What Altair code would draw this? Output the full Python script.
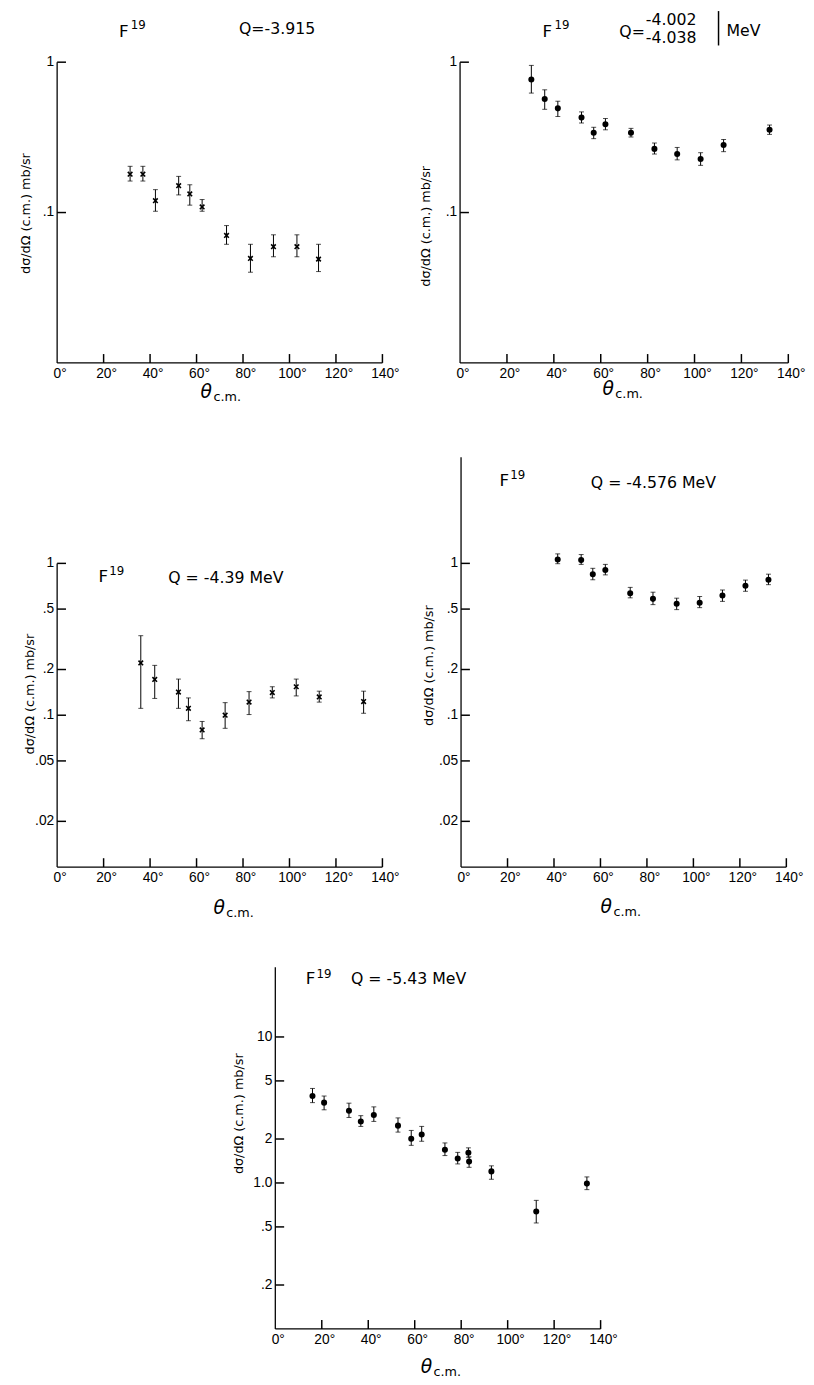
import altair as alt
import pandas as pd

FONT = "DejaVu Sans"
TICKFONT = "Liberation Sans"
INK = "black"

# ---------------- data ----------------
# Panel 1: Q = -3.915
theta1 = [31.4, 36.9, 42.3, 52.3, 57.1, 62.4, 72.9, 83.2, 93.1, 103.2, 112.5]
val1 = [0.180, 0.180, 0.120, 0.151, 0.133, 0.109, 0.0704, 0.0495, 0.0593, 0.0593, 0.049]
lo1 = [0.162, 0.162, 0.102, 0.131, 0.112, 0.102, 0.0615, 0.0401, 0.0508, 0.0508, 0.0405]
hi1 = [0.203, 0.203, 0.142, 0.174, 0.153, 0.122, 0.0819, 0.0615, 0.0711, 0.0711, 0.0615]

# Panel 2: Q = -4.002 / -4.038 MeV
theta2 = [30.4, 36.1, 41.7, 51.8, 57.0, 62.0, 72.9, 82.9, 92.6, 102.6, 112.4, 132.0]
val2 = [0.767, 0.569, 0.493, 0.428, 0.339, 0.386, 0.339, 0.265, 0.245, 0.227, 0.281, 0.355]
lo2 = [0.623, 0.486, 0.435, 0.394, 0.310, 0.355, 0.318, 0.245, 0.224, 0.206, 0.254, 0.331]
hi2 = [0.952, 0.655, 0.550, 0.467, 0.369, 0.422, 0.363, 0.290, 0.271, 0.250, 0.306, 0.382]

# Panel 3: Q = -4.39 MeV
theta3 = [36.0, 42.0, 52.2, 56.5, 62.4, 72.3, 82.6, 92.6, 102.9, 112.8, 131.9]
val3 = [0.221, 0.172, 0.142, 0.111, 0.080, 0.100, 0.122, 0.141, 0.154, 0.132, 0.123]
lo3 = [0.111, 0.129, 0.111, 0.092, 0.070, 0.082, 0.101, 0.130, 0.134, 0.122, 0.103]
hi3 = [0.334, 0.213, 0.173, 0.130, 0.091, 0.121, 0.143, 0.154, 0.173, 0.144, 0.144]

# Panel 4: Q = -4.576 MeV
theta4 = [41.6, 51.7, 56.7, 62.1, 72.8, 82.6, 92.8, 102.7, 112.5, 122.4, 132.3]
val4 = [1.060, 1.051, 0.849, 0.905, 0.636, 0.584, 0.542, 0.551, 0.614, 0.713, 0.780]
lo4 = [0.995, 0.985, 0.780, 0.840, 0.593, 0.535, 0.496, 0.511, 0.562, 0.655, 0.724]
hi4 = [1.155, 1.143, 0.928, 0.985, 0.695, 0.646, 0.590, 0.605, 0.668, 0.776, 0.849]

# Panel 5: Q = -5.43 MeV
theta5 = [16.0, 21.0, 31.7, 36.8, 42.4, 52.8, 58.5, 63.0, 73.0, 78.5, 83.1, 83.4, 93.0, 112.3, 134.1]
val5 = [3.94, 3.55, 3.12, 2.64, 2.92, 2.47, 2.01, 2.15, 1.69, 1.47, 1.61, 1.40, 1.20, 0.637, 0.99]
lo5 = [3.55, 3.17, 2.81, 2.44, 2.64, 2.23, 1.81, 1.93, 1.54, 1.35, 1.50, 1.28, 1.06, 0.532, 0.90]
hi5 = [4.44, 3.94, 3.52, 2.89, 3.32, 2.79, 2.29, 2.44, 1.88, 1.62, 1.74, 1.51, 1.31, 0.76, 1.10]

# axis ticks / labels
x_ticks = [0, 20, 40, 60, 80, 100, 120, 140]
x_tick_labels = ["0°", "20°", "40°", "60°", "80°", "100°", "120°", "140°"]
y_ticks_a = [1, 0.1]
y_labels_a = ["1", ".1"]
y_ticks_b = [1, 0.5, 0.2, 0.1, 0.05, 0.02]
y_labels_b = ["1", ".5", ".2", ".1", ".05", ".02"]
y_ticks_c = [10, 5, 2, 1, 0.5, 0.2]
y_labels_c = ["10", "5", "2", "1.0", ".5", ".2"]

Y_TITLE = "dσ/dΩ (c.m.) mb/sr"
CROSS = "M-1,-1L1,1M-1,1L1,-1"
ONE = pd.DataFrame({"k": [0]})


def text_layer(txt, px, py, size, italic=False, align="left", angle=0, font=FONT):
    return alt.Chart(ONE).mark_text(
        text=txt, font=font, fontSize=size, color=INK, align=align,
        baseline="middle", angle=angle,
        fontStyle="italic" if italic else "normal",
    ).encode(x=alt.value(px), y=alt.value(py))


def anchor(px, py):
    # invisible element that only widens the panel's layout bounds
    return alt.Chart(ONE).mark_rule(opacity=0).encode(
        x=alt.value(px), x2=alt.value(px + 1), y=alt.value(py), y2=alt.value(py + 1))


def panel(theta, val, lo, hi, marker, w, h, ydom, yticks, ylabels,
          ytitle_x, ytitle_y, texts, xlab_x, xlab_dy, yline, extra=None):
    df = pd.DataFrame({"theta": theta, "val": val, "lo": lo, "hi": hi})
    xs = alt.Scale(domain=[0, 140], nice=False, zero=False)
    ys = alt.Scale(type="log", domain=ydom, nice=False)
    X = lambda f: alt.X(f, scale=xs, axis=None)
    Y = lambda f: alt.Y(f, scale=ys, axis=None)
    base = alt.Chart(df)
    layers = [anchor(-50, h / 2)]
    # error bars
    layers.append(base.mark_rule(color=INK, strokeWidth=1).encode(
        x=X("theta:Q"), y=Y("lo:Q"), y2="hi:Q"))
    for fld in ("lo", "hi"):
        layers.append(base.mark_tick(orient="horizontal", size=5, thickness=1,
                                     color=INK).encode(x=X("theta:Q"), y=Y(f"{fld}:Q")))
    if marker == "cross":
        pts = base.mark_point(shape=CROSS, filled=False, size=22,
                              strokeWidth=1.6, color=INK, opacity=1)
    else:
        pts = base.mark_point(shape="circle", filled=True, size=38,
                              color=INK, opacity=1)
    layers.append(pts.encode(x=X("theta:Q"), y=Y("val:Q")))
    # axis lines
    layers.append(alt.Chart(ONE).mark_rule(color=INK, strokeWidth=1.3).encode(
        x=alt.value(0),
        y=alt.YDatum(yline[0], type="quantitative", scale=ys, axis=None),
        y2=alt.Y2Datum(yline[1])))
    layers.append(alt.Chart(ONE).mark_rule(color=INK, strokeWidth=1.3).encode(
        x=alt.XDatum(0, type="quantitative", scale=xs, axis=None),
        x2=alt.X2Datum(140), y=alt.value(h)))
    # inward tick marks
    xt = pd.DataFrame({"t": x_ticks[1:]})
    layers.append(alt.Chart(xt).mark_rule(color=INK, strokeWidth=1.5).encode(
        x=X("t:Q"), y=alt.value(h), y2=alt.value(h - 9)))
    yt = pd.DataFrame({"t": yticks})
    layers.append(alt.Chart(yt).mark_rule(color=INK, strokeWidth=1.5).encode(
        y=Y("t:Q"), x=alt.value(0), x2=alt.value(9)))
    # tick labels
    xl = pd.DataFrame({"t": x_ticks, "lab": x_tick_labels})
    layers.append(alt.Chart(xl).mark_text(
        font=TICKFONT, fontSize=14, color=INK, align="center", baseline="middle",
        dx=3).encode(x=X("t:Q"), y=alt.value(h + 11), text="lab:N"))
    yl = pd.DataFrame({"t": yticks, "lab": ylabels})
    layers.append(alt.Chart(yl).mark_text(
        font=TICKFONT, fontSize=14, color=INK, align="right", baseline="middle"
    ).encode(y=Y("t:Q"), x=alt.value(-3), text="lab:N"))
    # axis titles
    layers.append(text_layer(Y_TITLE, ytitle_x, ytitle_y, 13, align="center", angle=270))
    layers.append(text_layer("θ", xlab_x, h + xlab_dy, 19, italic=True))
    layers.append(text_layer("c.m.", xlab_x + 13, h + xlab_dy + 5, 13))
    # panel labels
    for t in texts:
        layers.append(text_layer(*t))
    if extra is not None:
        layers.extend(extra)
    return alt.layer(*layers).properties(width=w, height=h)


p1 = panel(theta1, val1, lo1, hi1, "cross", 331, 306, [0.01, 1],
           y_ticks_a, y_labels_a, -32, 154,
           [("F", 63, -31, 17), ("19", 75, -38, 12), ("Q=-3.915", 185, -34, 16)],
           146, 30, (0.01, 1), extra=[anchor(100, 306 + 50.5)])
bar2 = alt.Chart(ONE).mark_rule(color=INK, strokeWidth=1.5).encode(
    x=alt.value(263), y=alt.value(-52), y2=alt.value(-17))
p2 = panel(theta2, val2, lo2, hi2, "circle", 334, 306, [0.01, 1],
           y_ticks_a, y_labels_a, -35, 167,
           [("F", 84, -31, 17), ("19", 96, -38, 12), ("Q=", 162, -31, 16),
            ("-4.002", 189, -43, 16), ("-4.038", 189, -25, 16),
            ("MeV", 271, -32, 16)],
           145, 27, (0.01, 1), extra=[bar2])
p3 = panel(theta3, val3, lo3, hi3, "cross", 331, 417, [0.01, 5.0],
           y_ticks_b, y_labels_b, -28, 241,
           [("F", 42, 122, 17), ("19", 53, 116, 12), ("Q = -4.39 MeV", 113, 123, 16)],
           159, 42, (0.01, 1), extra=[anchor(100, 417 + 57)])
p4 = panel(theta4, val4, lo4, hi4, "circle", 331, 417, [0.01, 5.0],
           y_ticks_b, y_labels_b, -33, 212,
           [("F", 39, 24, 17), ("19", 50, 18, 12), ("Q = -4.576  MeV", 132, 26, 16)],
           142, 41, (0.01, 5.0))
p5 = panel(theta5, val5, lo5, hi5, "circle", 331, 368, [0.1, 30],
           y_ticks_c, y_labels_c, -37, 149,
           [("F", 31, 12, 17), ("19", 42, 7, 12), ("Q = -5.43 MeV", 77, 12, 16)],
           148, 39, (0.1, 30))

spacer = alt.Chart(ONE).mark_rule(opacity=0).encode(
    x=alt.value(0), x2=alt.value(1), y=alt.value(5), y2=alt.value(6)
).properties(width=204, height=10)

row1 = alt.hconcat(p1, p2, spacing=79, bounds="flush")
row2 = alt.hconcat(p3, p4, spacing=80, bounds="flush")
row3 = alt.hconcat(spacer, p5, spacing=18, bounds="flush")

chart = alt.vconcat(row1, row2, row3, spacing=43).configure(
    background="white",
    padding={"left": 0, "top": -10, "right": 0, "bottom": 0},
).configure_view(stroke="transparent", strokeWidth=0)

chart.save("out.html", embed_options={"renderer": "svg", "actions": False})
